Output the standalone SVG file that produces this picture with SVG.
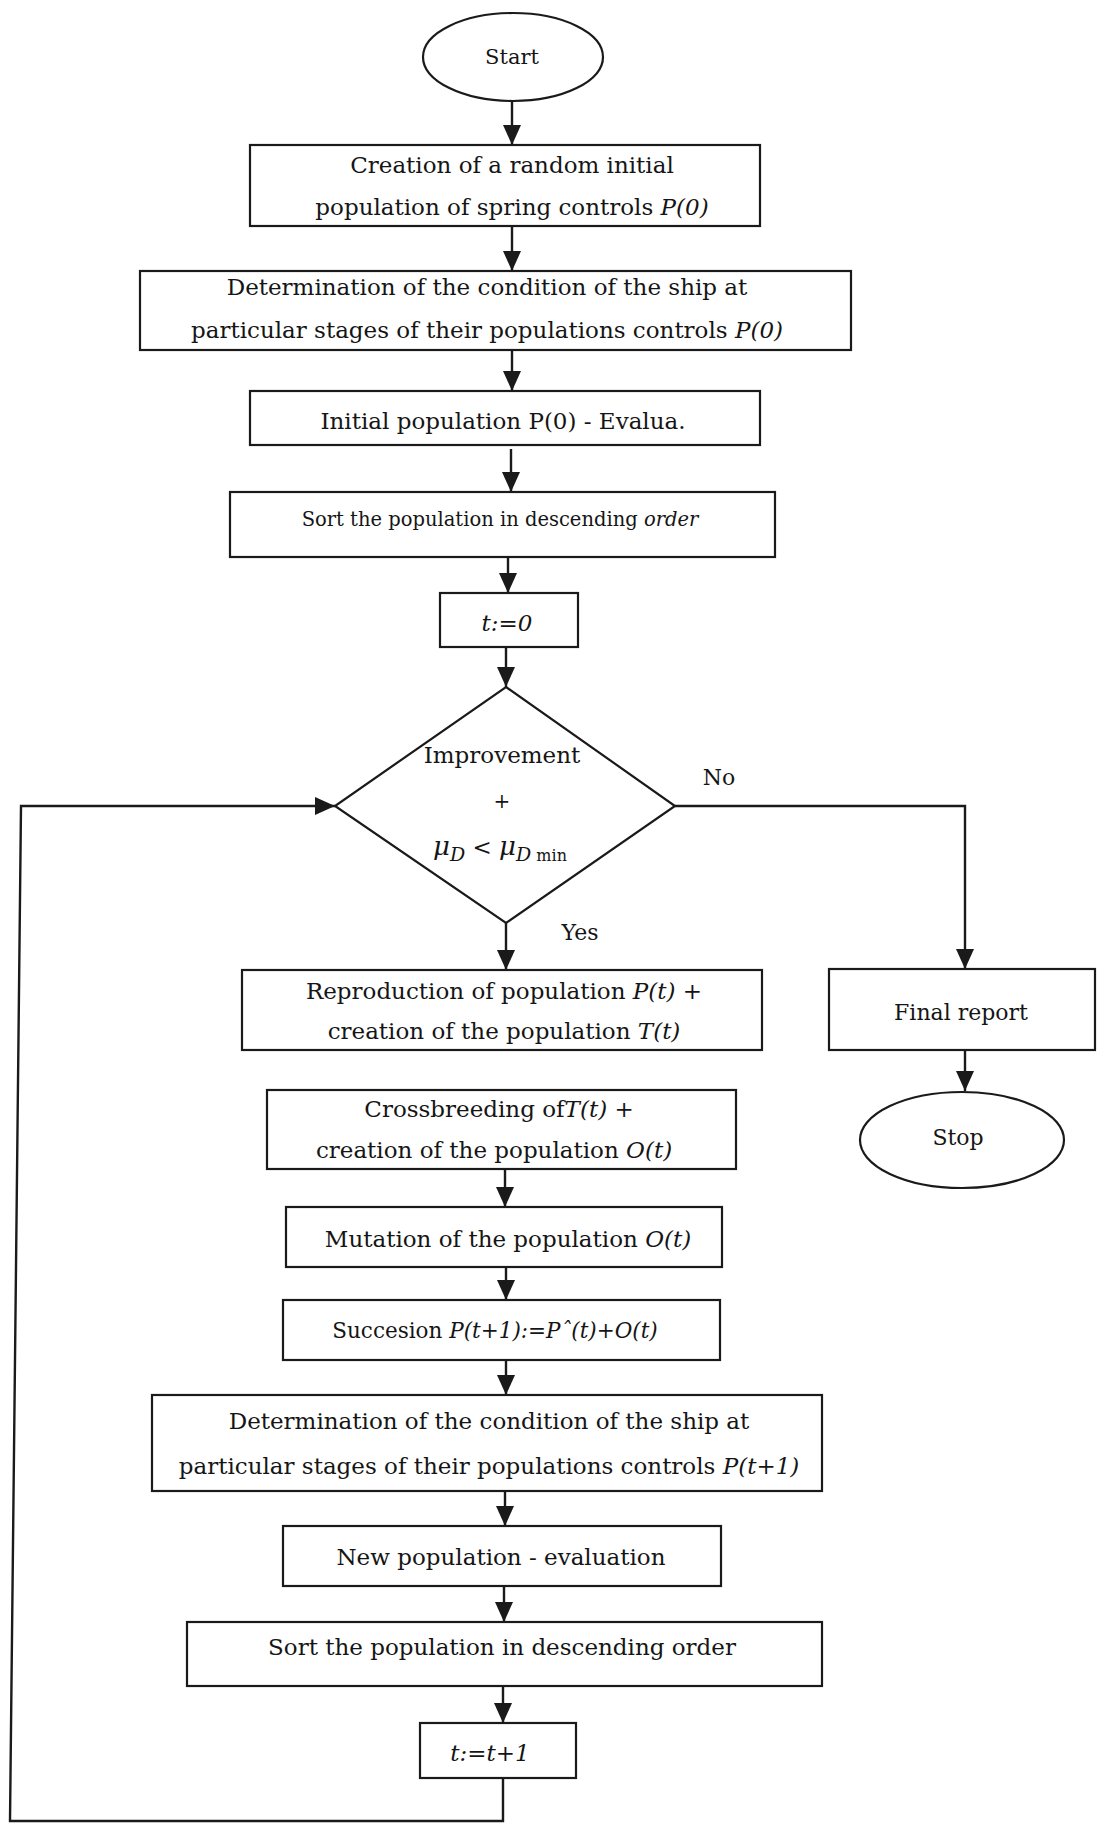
<svg xmlns="http://www.w3.org/2000/svg" width="1105" height="1832" viewBox="0 0 1105 1832">
<defs>
<style>
.box{fill:#fff;stroke:#1a1a1a;stroke-width:2.2}
.t{font-family:"DejaVu Serif",serif;font-size:23px;fill:#151515;text-anchor:middle}
.i{font-style:italic}
.n{font-style:normal}
.conn{stroke:#1a1a1a;stroke-width:2.4;fill:none}
.arr{marker-end:url(#ah)}
</style>
<marker id="ah" viewBox="0 0 20 18" refX="20" refY="9" markerWidth="20" markerHeight="18" markerUnits="userSpaceOnUse" orient="auto">
<path d="M0,0 L20,9 L0,18 z" fill="#1a1a1a"/>
</marker>
</defs>
<rect width="1105" height="1832" fill="#fff"/>

<g id="connectors">
<line class="conn arr" x1="512" y1="101" x2="512" y2="145"/>
<line class="conn arr" x1="512" y1="226" x2="512" y2="271"/>
<line class="conn arr" x1="512" y1="350" x2="512" y2="391"/>
<line class="conn arr" x1="511" y1="449" x2="511" y2="492"/>
<line class="conn arr" x1="508" y1="557" x2="508" y2="593"/>
<line class="conn arr" x1="506" y1="647" x2="506" y2="687"/>
<line class="conn arr" x1="506" y1="923" x2="506" y2="970"/>
<polyline class="conn arr" points="675,806 965,806 965,969"/>
<line class="conn arr" x1="965" y1="1050" x2="965" y2="1091"/>
<line class="conn arr" x1="505" y1="1169" x2="505" y2="1207"/>
<line class="conn arr" x1="506" y1="1267" x2="506" y2="1300"/>
<line class="conn arr" x1="506" y1="1360" x2="506" y2="1395"/>
<line class="conn arr" x1="505" y1="1491" x2="505" y2="1526"/>
<line class="conn arr" x1="504" y1="1586" x2="504" y2="1622"/>
<line class="conn arr" x1="503" y1="1686" x2="503" y2="1723"/>
<polyline class="conn arr" points="503,1778 503,1821 10,1821 21,806 335,806"/>
</g>

<g id="start">
<ellipse class="box" cx="513" cy="57" rx="90" ry="44"/>
<text class="t" x="512" y="64" style="font-size:21px">Start</text>
</g>

<g id="create">
<rect class="box" x="250" y="145" width="510" height="81"/>
<text class="t" x="512" y="173">Creation of a random initial</text>
<text class="t" x="512" y="215">population of spring controls <tspan class="i">P(0)</tspan></text>
</g>

<g id="determine0">
<rect class="box" x="140" y="271" width="711" height="79"/>
<text class="t" x="487" y="295">Determination of the condition of the ship at</text>
<text class="t" x="487" y="338">particular stages of their populations controls <tspan class="i">P(0)</tspan></text>
</g>

<g id="initial">
<rect class="box" x="250" y="391" width="510" height="54"/>
<text class="t" x="503" y="429">Initial population P(0) - Evalua.</text>
</g>

<g id="sort0">
<rect class="box" x="230" y="492" width="545" height="65"/>
<text class="t" x="500" y="526" style="font-size:19.5px">Sort the population in descending <tspan class="i">order</tspan></text>
</g>

<g id="t0">
<rect class="box" x="440" y="593" width="138" height="54"/>
<text class="t i" x="507" y="631">t:=0</text>
</g>

<g id="decision">
<polygon class="box" points="506,687 675,806 506,923 335,806"/>
<text class="t" x="502" y="763">Improvement</text>
<text class="t" x="502" y="808" style="font-size:20px">+</text>
<text class="t i" x="500" y="855" style="font-size:26px">μ<tspan font-size="19" dy="6">D</tspan><tspan class="n" dy="-6" font-size="23"> &lt; </tspan>μ<tspan font-size="19" dy="6">D</tspan><tspan class="n" font-size="16"> min</tspan></text>
</g>

<g id="labels">
<text class="t" x="580" y="940" style="font-size:22px">Yes</text>
<text class="t" x="719" y="785" style="font-size:22px">No</text>
</g>

<g id="reproduce">
<rect class="box" x="242" y="970" width="520" height="80"/>
<text class="t" x="504" y="999">Reproduction of population <tspan class="i">P(t)</tspan> +</text>
<text class="t" x="504" y="1039">creation of the population <tspan class="i">T(t)</tspan></text>
</g>

<g id="final">
<rect class="box" x="829" y="969" width="266" height="81"/>
<text class="t" x="961" y="1020" style="font-size:22px">Final report</text>
</g>

<g id="stop">
<ellipse class="box" cx="962" cy="1140" rx="102" ry="48"/>
<text class="t" x="958" y="1145" style="font-size:22px">Stop</text>
</g>

<g id="cross">
<rect class="box" x="267" y="1090" width="469" height="79"/>
<text class="t" x="499" y="1117">Crossbreeding of<tspan class="i">T(t)</tspan> +</text>
<text class="t" x="494" y="1158">creation of the population <tspan class="i">O(t)</tspan></text>
</g>

<g id="mutation">
<rect class="box" x="286" y="1207" width="436" height="60"/>
<text class="t" x="508" y="1247">Mutation of the population <tspan class="i">O(t)</tspan></text>
</g>

<g id="succession">
<rect class="box" x="283" y="1300" width="437" height="60"/>
<text class="t" x="495" y="1338" style="font-size:21.5px">Succesion <tspan class="i">P(t+1):=Pˆ(t)+O(t)</tspan></text>
</g>

<g id="determine1">
<rect class="box" x="152" y="1395" width="670" height="96"/>
<text class="t" x="489" y="1429">Determination of the condition of the ship at</text>
<text class="t" x="489" y="1474">particular stages of their populations controls <tspan class="i">P(t+1)</tspan></text>
</g>

<g id="evaluate">
<rect class="box" x="283" y="1526" width="438" height="60"/>
<text class="t" x="501" y="1565">New population - evaluation</text>
</g>

<g id="sort1">
<rect class="box" x="187" y="1622" width="635" height="64"/>
<text class="t" x="502" y="1655">Sort the population in descending order</text>
</g>

<g id="tinc">
<rect class="box" x="420" y="1723" width="156" height="55"/>
<text class="t i" x="490" y="1761">t:=t+1</text>
</g>
</svg>
